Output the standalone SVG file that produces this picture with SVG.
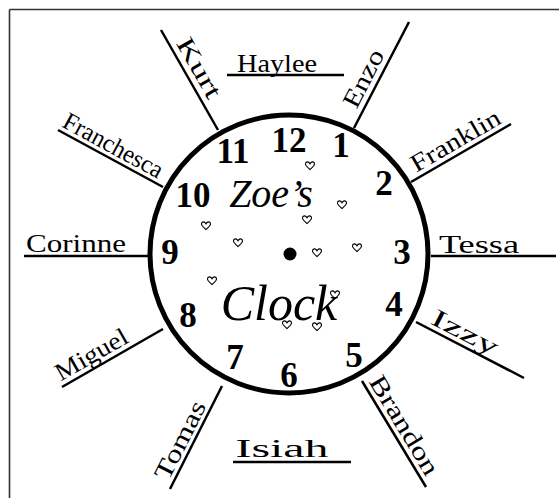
<svg xmlns="http://www.w3.org/2000/svg" width="559" height="498" viewBox="0 0 559 498">
<style>
.num{font-family:"Liberation Serif","Times New Roman",serif;font-weight:bold;font-size:35px;text-anchor:middle;fill:#000}
.name{font-family:"Liberation Serif","Times New Roman",serif;font-size:25px;text-anchor:middle;fill:#000}
.title{font-family:"Liberation Serif","Times New Roman",serif;font-style:italic;text-anchor:middle;fill:#000}
.spoke{stroke:#000;stroke-width:2.5;stroke-linecap:butt;fill:none}
.heart{fill:none;stroke:#000;stroke-width:1.1}
</style>
<defs>
<path id="hrt" class="heart" d="M0,3.5 C-1.5,2 -4.5,0 -4.5,-2 C-4.5,-4.5 -1.5,-5 0,-2.2 C1.5,-5 4.5,-4.5 4.5,-2 C4.5,0 1.5,2 0,3.5 Z"/>
</defs>
<rect width="559" height="498" fill="#fff"/>
<g id="border" stroke="#333" stroke-width="1.6" fill="none">
<line x1="9.5" y1="9.5" x2="559" y2="9.5"/>
<line x1="9.5" y1="9.5" x2="9.5" y2="498"/>
</g>
<g id="connectors">
<line class="spoke" x1="218" y1="130" x2="161" y2="30"/>
<line class="spoke" x1="227" y1="75" x2="344" y2="75"/>
<line class="spoke" x1="354" y1="128" x2="409" y2="22"/>
<line class="spoke" x1="411" y1="182" x2="511" y2="124"/>
<line class="spoke" x1="431" y1="256" x2="556" y2="256"/>
<line class="spoke" x1="416" y1="322" x2="524" y2="378"/>
<line class="spoke" x1="362" y1="381" x2="426" y2="487"/>
<line class="spoke" x1="233" y1="462" x2="351" y2="462"/>
<line class="spoke" x1="222" y1="386" x2="170" y2="489"/>
<line class="spoke" x1="163" y1="329" x2="62" y2="387"/>
<line class="spoke" x1="24" y1="256" x2="148" y2="256"/>
<line class="spoke" x1="58" y1="130" x2="163" y2="187"/>
</g>
<g id="clock">
<circle cx="289" cy="254" r="139" fill="none" stroke="#000" stroke-width="5"/>
<circle cx="290" cy="254" r="6.5" fill="#000"/>
<text class="title" x="271" y="207" font-size="40">Zoe’s</text>
<text class="title" x="279" y="320" font-size="50">Clock</text>
</g>
<g id="numbers">
<text class="num" x="289" y="152">12</text>
<text class="num" x="341" y="157">1</text>
<text class="num" x="384" y="195">2</text>
<text class="num" x="402" y="264">3</text>
<text class="num" x="394" y="316">4</text>
<text class="num" x="354" y="367">5</text>
<text class="num" x="289" y="387">6</text>
<text class="num" x="235" y="369">7</text>
<text class="num" x="188" y="327">8</text>
<text class="num" x="170" y="264">9</text>
<text class="num" x="193" y="207">10</text>
<text class="num" x="233" y="163">11</text>
</g>
<g id="hearts">
<use href="#hrt" x="310" y="166"/>
<use href="#hrt" x="342" y="205"/>
<use href="#hrt" x="307" y="220"/>
<use href="#hrt" x="206" y="226"/>
<use href="#hrt" x="238" y="243"/>
<use href="#hrt" x="317" y="253"/>
<use href="#hrt" x="357" y="248"/>
<use href="#hrt" x="212" y="281"/>
<use href="#hrt" x="335" y="295"/>
<use href="#hrt" x="287" y="325"/>
<use href="#hrt" x="317" y="327"/>
</g>
<g id="kurt"><text class="name" transform="translate(187,75) rotate(60.3)" y="-6" textLength="66" lengthAdjust="spacingAndGlyphs">Kurt</text></g>
<g id="haylee"><text class="name" x="277" y="72" textLength="80" lengthAdjust="spacingAndGlyphs">Haylee</text></g>
<g id="enzo"><text class="name" transform="translate(376,85) rotate(-62.6)" y="-6" textLength="62" lengthAdjust="spacingAndGlyphs">Enzo</text></g>
<g id="franklin"><text class="name" transform="translate(462,152) rotate(-30)" y="-5" textLength="100" lengthAdjust="spacingAndGlyphs">Franklin</text></g>
<g id="tessa"><text class="name" x="479" y="253" textLength="80" lengthAdjust="spacingAndGlyphs">Tessa</text></g>
<g id="izzy"><text class="name" transform="translate(459,344) rotate(27.4)" y="-5" textLength="72" lengthAdjust="spacingAndGlyphs">Izzy</text></g>
<g id="brandon"><text class="name" transform="translate(393,432) rotate(58.9)" y="-5" textLength="112" lengthAdjust="spacingAndGlyphs">Brandon</text></g>
<g id="isiah"><text class="name" x="282" y="457" textLength="93" lengthAdjust="spacingAndGlyphs">Isiah</text></g>
<g id="tomas"><text class="name" transform="translate(192,446) rotate(-63.2)" y="-5" textLength="85" lengthAdjust="spacingAndGlyphs">Tomas</text></g>
<g id="miguel"><text class="name" transform="translate(98,366) rotate(-29.9)" y="-5" textLength="80" lengthAdjust="spacingAndGlyphs">Miguel</text></g>
<g id="corinne"><text class="name" x="76" y="252" textLength="100" lengthAdjust="spacingAndGlyphs">Corinne</text></g>
<g id="franchesca"><text class="name" transform="translate(107,157) rotate(28.5)" y="-5" textLength="110" lengthAdjust="spacingAndGlyphs">Franchesca</text></g>
</svg>
